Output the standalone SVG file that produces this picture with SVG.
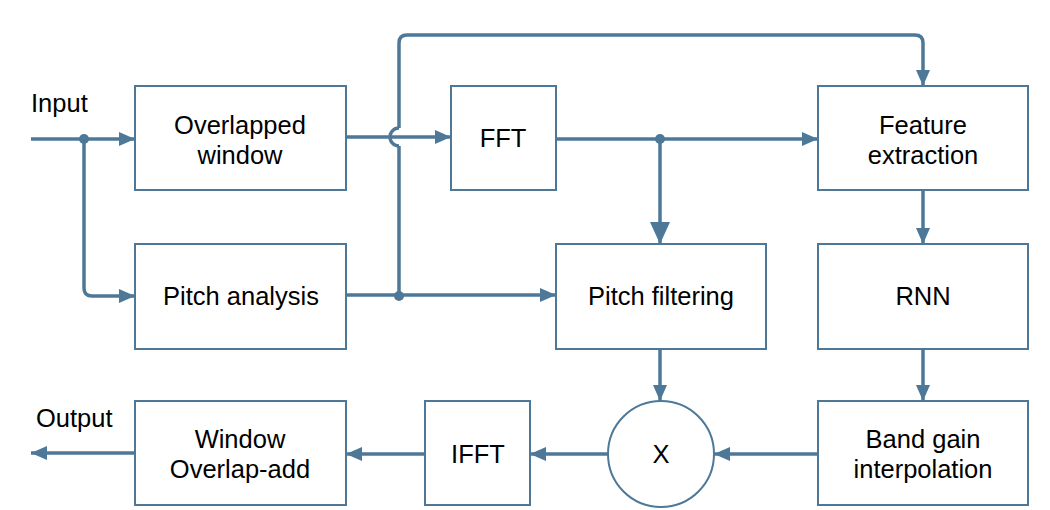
<svg xmlns="http://www.w3.org/2000/svg" width="1050" height="510" viewBox="0 0 1050 510">
<style>
.box{fill:#fff;stroke:#4d7898;stroke-width:2}
.t{font-family:"Liberation Sans",Arial,sans-serif;font-size:25.5px;fill:#000;text-anchor:middle}
.l{font-family:"Liberation Sans",Arial,sans-serif;font-size:25.5px;fill:#000}
.c{fill:none;stroke:#4d7898;stroke-width:3.5}
.d{fill:#4d7898}
</style>
<defs>
<marker id="a" markerUnits="userSpaceOnUse" markerWidth="16" markerHeight="14" refX="16" refY="7" orient="auto"><path d="M0,0 L16,7 L0,14 Z" fill="#4d7898"/></marker>
<marker id="b" markerUnits="userSpaceOnUse" markerWidth="22" markerHeight="20" refX="22" refY="10" orient="auto"><path d="M0,0 L22,10 L0,20 Z" fill="#4d7898"/></marker>
</defs>
<g id="connectors">
<path class="c" d="M31,139 H135" marker-end="url(#a)"/>
<path class="c" d="M84,139 V288 Q84,296 92,296 H135" marker-end="url(#a)"/>
<path class="c" d="M346,137 H390 M399,128 A9,9 0 0 0 399,146"/>
<path class="c" d="M390,137 H451" marker-end="url(#a)"/>
<path class="c" d="M399,296 V146 M399,128 V43 Q399,35 407,35 H915 Q923,35 923,43 V86" marker-end="url(#a)"/>
<path class="c" d="M346,295 H556" marker-end="url(#a)"/>
<path class="c" d="M556,139 H818" marker-end="url(#a)"/>
<path class="c" d="M660,139 V244" marker-end="url(#b)"/>
<path class="c" d="M923,190 V244" marker-end="url(#a)"/>
<path class="c" d="M923,349 V401" marker-end="url(#a)"/>
<path class="c" d="M660,349 V401" marker-end="url(#a)"/>
<path class="c" d="M818,454 H714" marker-end="url(#a)"/>
<path class="c" d="M608,454 H530" marker-end="url(#a)"/>
<path class="c" d="M425,454 H346" marker-end="url(#a)"/>
<path class="c" d="M135,453 H31" marker-end="url(#a)"/>
<circle class="d" cx="84" cy="139" r="5"/>
<circle class="d" cx="399" cy="296" r="5"/>
<circle class="d" cx="660" cy="139" r="5"/>
</g>
<g id="n-input"><text class="l" x="31" y="112">Input</text></g>
<g id="n-output"><text class="l" x="36" y="427">Output</text></g>
<g id="n-overlapped"><rect class="box" x="135" y="86" width="211" height="104"/><text class="t" x="240" y="134">Overlapped</text><text class="t" x="240" y="164">window</text></g>
<g id="n-pitchanalysis"><rect class="box" x="135" y="244" width="211" height="105"/><text class="t" x="241" y="305">Pitch analysis</text></g>
<g id="n-fft"><rect class="box" x="451" y="86" width="105" height="104"/><text class="t" x="503" y="147">FFT</text></g>
<g id="n-pitchfiltering"><rect class="box" x="556" y="244" width="210" height="105"/><text class="t" x="661" y="305">Pitch filtering</text></g>
<g id="n-feature"><rect class="box" x="818" y="86" width="210" height="104"/><text class="t" x="923" y="134">Feature</text><text class="t" x="923" y="164">extraction</text></g>
<g id="n-rnn"><rect class="box" x="818" y="244" width="210" height="105"/><text class="t" x="923" y="305">RNN</text></g>
<g id="n-bandgain"><rect class="box" x="818" y="401" width="210" height="104"/><text class="t" x="923" y="448">Band gain</text><text class="t" x="923" y="478">interpolation</text></g>
<g id="n-x"><circle class="box" cx="661" cy="454" r="53"/><text class="t" x="661" y="463">X</text></g>
<g id="n-ifft"><rect class="box" x="425" y="401" width="105" height="104"/><text class="t" x="478" y="463">IFFT</text></g>
<g id="n-window"><rect class="box" x="135" y="401" width="211" height="104"/><text class="t" x="240" y="448">Window</text><text class="t" x="240" y="478">Overlap-add</text></g>
</svg>
